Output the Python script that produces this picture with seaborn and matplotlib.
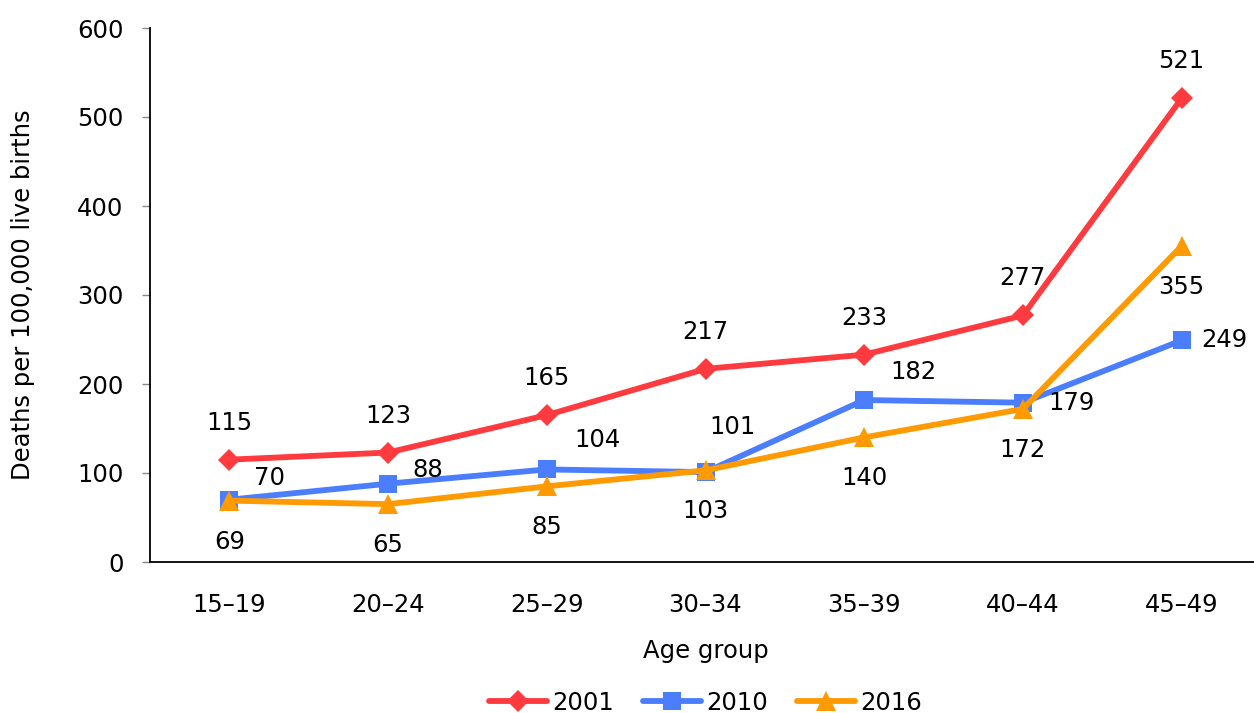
import matplotlib
matplotlib.use("Agg")
import matplotlib.pyplot as plt
import pandas as pd
import seaborn as sns

age_groups = ["15–19", "20–24", "25–29", "30–34", "35–39", "40–44", "45–49"]
years = ["2001", "2010", "2016"]
rate_2001 = [115, 123, 165, 217, 233, 277, 521]
rate_2010 = [70, 88, 104, 101, 182, 179, 249]
rate_2016 = [69, 65, 85, 103, 140, 172, 355]

COLORS = {"2001": "#FF3B3F", "2010": "#4A7EFF", "2016": "#FF9A00"}
MARKERS = {"2001": "D", "2010": "s", "2016": "^"}
SIZES = {"2001": 11.5, "2010": 13, "2016": 15}

# label offsets in pixels (dx, dy up)
OFFS_2001 = [(0, 37)] * 7
OFFS_2010 = [(40, 22), (40, 14), (51, 29), (27, 45), (49, 28), (49, 0), (43, 0)]
OFFS_2016 = [(0, -41)] * 7

df = pd.DataFrame({
    "Age group": age_groups * 3,
    "Year": [y for y in years for _ in age_groups],
    "Rate": rate_2001 + rate_2010 + rate_2016,
})

sns.set_theme(style="white")
plt.rcParams["font.family"] = ["DejaVu Sans"]
plt.rcParams["text.color"] = "black"
plt.rcParams["axes.labelcolor"] = "black"
FS = 17.5

fig = plt.figure(figsize=(12.54, 7.13), dpi=100)
ax = fig.add_axes([150 / 1254, 1 - 562 / 713, (1261 - 150) / 1254, (562 - 28) / 713])

sns.lineplot(data=df, x="Age group", y="Rate", hue="Year", style="Year",
             palette=COLORS, markers=MARKERS, dashes=False, linewidth=4.2,
             markeredgewidth=0, ax=ax, sort=False)
for line, y in zip(ax.lines[:3], years):
    line.set_markersize(SIZES[y])

px = 0.72
for vals, offs in [(rate_2001, OFFS_2001), (rate_2010, OFFS_2010), (rate_2016, OFFS_2016)]:
    for i, (v, (dx, dy)) in enumerate(zip(vals, offs)):
        ax.annotate(str(v), (i, v), xytext=(dx * px, dy * px), textcoords="offset points",
                    ha="center", va="center", fontsize=FS, color="black")

ax.set_xlim(-0.5, 6.5)
ax.set_ylim(0, 600)
ax.set_yticks(range(0, 601, 100))
ax.set_xlabel("Age group", fontsize=FS, labelpad=16)
ax.set_ylabel("Deaths per 100,000 live births", fontsize=FS, labelpad=30)
ax.tick_params(axis="y", left=True, length=6, width=1, color="#888888", pad=13,
               labelsize=FS, labelcolor="black")
ax.tick_params(axis="x", bottom=False, pad=16, labelsize=FS, labelcolor="black")
for s in ["top", "right"]:
    ax.spines[s].set_visible(False)
for s in ["left", "bottom"]:
    ax.spines[s].set_color("black")
    ax.spines[s].set_linewidth(1.3)

handles, labels = ax.get_legend_handles_labels()
for h, y in zip(handles, labels):
    if y in SIZES:
        h.set_markersize(SIZES[y])
ax.legend(handles, labels, loc="center", bbox_to_anchor=(0.5, -0.264), ncol=3,
          frameon=False, fontsize=FS, handlelength=2.4, columnspacing=1.2, handletextpad=0.2)

fig.savefig("out.png", dpi=100)
